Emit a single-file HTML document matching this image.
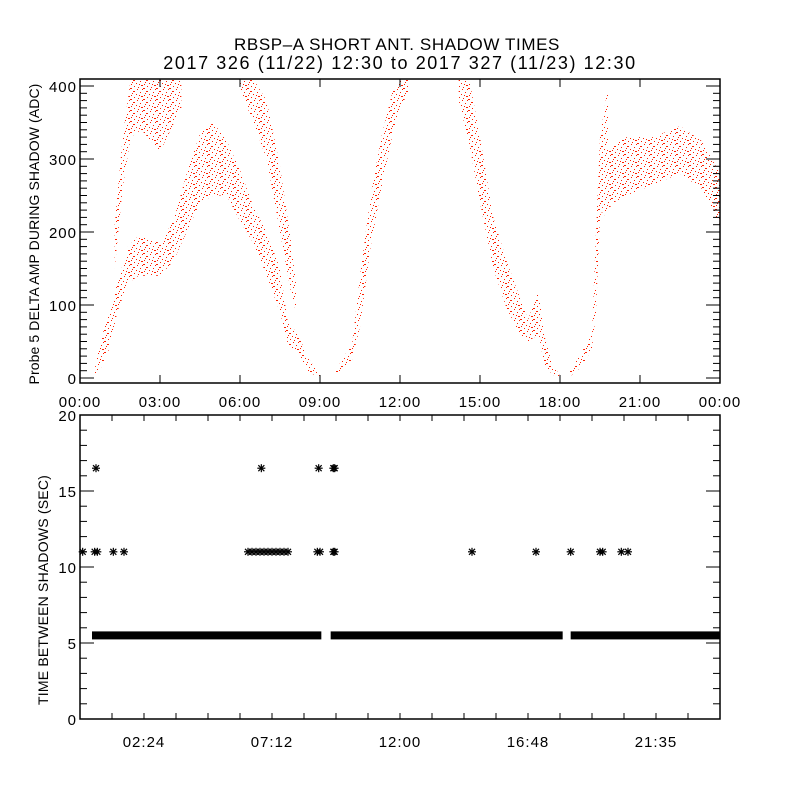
<!DOCTYPE html>
<html><head><meta charset="utf-8"><style>
html,body{margin:0;padding:0;background:#fff;}
svg{display:block;font-family:"Liberation Sans",sans-serif;}
</style></head><body>
<svg id="c" width="800" height="800" viewBox="0 0 800 800">
<defs>
<pattern id="dots" width="13" height="11" patternUnits="userSpaceOnUse">
<rect x="0" y="0" width="2" height="1" fill="#ff2000"/>
<rect x="7" y="1" width="1" height="1" fill="#ff2000"/>
<rect x="3" y="3" width="2" height="1" fill="#ff2000"/>
<rect x="10" y="4" width="1" height="1" fill="#ff2000"/>
<rect x="6" y="6" width="1" height="1" fill="#ff2000"/>
<rect x="1" y="7" width="1" height="1" fill="#ff2000"/>
<rect x="11" y="8" width="2" height="1" fill="#ff2000"/>
<rect x="4" y="9" width="1" height="1" fill="#ff2000"/>
<rect x="8" y="10" width="1" height="1" fill="#ff2000"/>
<rect x="12" y="1" width="1" height="1" fill="#ff2000"/>
<rect x="9" y="7" width="1" height="1" fill="#ff2000"/>
<rect x="2" y="5" width="1" height="1" fill="#ff2000"/>
</pattern>
</defs>
<text x="397" y="50" text-anchor="middle" font-size="17" letter-spacing="0.6">RBSP–A SHORT ANT. SHADOW TIMES</text>
<text x="400" y="69" text-anchor="middle" font-size="18" letter-spacing="1.6">2017 326 (11/22) 12:30 to 2017 327 (11/23) 12:30</text>
<g id="topPanel"></g>
<g id="botPanel"></g>
</svg>
<script>
// ---- data ----
const bandMainH=[0.5,0.8,1.1,1.4,1.8,2.2,3,3.5,4,4.5,5,5.5,6,6.5,7,7.5,7.8,8.2,8.5,9];
const bandMainLo=[0,15,40,90,130,140,140,160,200,240,250,250,215,185,140,90,45,35,10,0];
const bandMainHi=[4,55,90,130,180,195,185,215,280,335,350,325,285,235,200,150,75,60,30,5];
const bandUpH=[1.3,1.6,1.9,2.3,3,3.8];
const bandUpLo=[150,260,330,340,310,370];
const bandUpHi=[210,330,410,410,410,410];
const bandDescAH=[6.0,6.5,7,7.5,7.9,8.1];
const bandDescALo=[395,350,300,200,120,90];
const bandDescAHi=[410,410,380,290,190,130];
const bandRiseAH=[9.5,9.9,10.2,10.5,10.9,11.3,11.7,12,12.3];
const bandRiseALo=[0,15,25,70,180,260,330,370,390];
const bandRiseAHi=[4,30,45,140,250,330,390,410,410];
const bandDescBH=[14.2,14.6,15,15.5,16,16.5,16.8,17.2,17.4,17.7,18];
const bandDescBLo=[380,320,240,150,95,60,50,60,20,5,0];
const bandDescBHi=[410,410,330,220,160,110,80,120,60,20,3];
const bandRiseBH=[18.3,18.8,19.2,19.35,19.5,19.8];
const bandRiseBLo=[0,15,40,90,220,260];
const bandRiseBHi=[5,35,60,200,330,400];
const bandLateH=[19.6,20,20.5,21.5,22.5,23.3,23.7,24];
const bandLateLo=[220,240,250,265,280,260,230,210];
const bandLateHi=[300,320,330,330,345,325,300,280];
const barStart=[0.45,9.4,18.4];
const barEnd=[9.05,18.1,24];
const barValue=[5.5,5.5,5.5];
const star11Hours=[0.1,0.55,0.65,1.25,1.65,6.3,6.45,6.6,6.75,6.9,7.05,7.2,7.35,7.5,7.65,7.8,8.9,9.0,9.5,9.55,14.7,17.1,18.4,19.5,19.6,20.3,20.55];
const star16Hours=[0.6,6.8,8.95,9.5,9.55];
const topXTicks=["00:00","03:00","06:00","09:00","12:00","15:00","18:00","21:00","00:00"];
const topYTicks=[0,100,200,300,400];
const botXTicks=["02:24","07:12","12:00","16:48","21:35"];
const botYTicks=[0,5,10,15,20];

const NS="http://www.w3.org/2000/svg";
function mk(p,t,a){const e=document.createElementNS(NS,t);for(const k in a)e.setAttribute(k,a[k]);p.appendChild(e);return e;}
const X0=80,X1=720;
const xs=h=>X0+h*(X1-X0)/24;
const T0=79,T1=383;
const ty=v=>Math.max(T0,Math.min(T1,378-v*0.73));
const B0=415,B1=719;
const by=v=>B1-v*(B1-B0)/20;

const topG=document.getElementById('topPanel');
const bands=[[bandMainH,bandMainLo,bandMainHi,'band-main'],[bandUpH,bandUpLo,bandUpHi,'band-upper'],[bandDescAH,bandDescALo,bandDescAHi,'band-descent-a'],[bandRiseAH,bandRiseALo,bandRiseAHi,'band-rise-a'],[bandDescBH,bandDescBLo,bandDescBHi,'band-descent-b'],[bandRiseBH,bandRiseBLo,bandRiseBHi,'band-rise-b'],[bandLateH,bandLateLo,bandLateHi,'band-late']];
bands.forEach(b=>{
  const [H,L,U,n]=b;let pts=[];
  for(let i=0;i<H.length;i++)pts.push(xs(H[i])+','+ty(U[i]));
  for(let i=H.length-1;i>=0;i--)pts.push(xs(H[i])+','+ty(L[i]));
  const p=mk(topG,'polygon',{points:pts.join(' '),fill:'url(#dots)'});
  
  
});
mk(topG,'rect',{x:X0,y:T0,width:X1-X0,height:T1-T0,fill:'none',stroke:'#000','stroke-width':1.5});
topXTicks.forEach((l,i)=>{
  const x=X0+i*80;
  mk(topG,'line',{x1:x,x2:x,y1:T1,y2:T1-8,stroke:'#000'});
  mk(topG,'line',{x1:x,x2:x,y1:T0,y2:T0+8,stroke:'#000'});
  const t=mk(topG,'text',{x:x,y:T1+24,'text-anchor':'middle','font-size':15,'letter-spacing':1});t.textContent=l;
  
  
});
for(let v=0;v<=410;v+=10){
  const y=ty(v);const len=v%100===0?14:7;
  mk(topG,'line',{x1:X0,x2:X0+len,y1:y,y2:y,stroke:'#000'});
  mk(topG,'line',{x1:X1,x2:X1-len,y1:y,y2:y,stroke:'#000'});
}
topYTicks.forEach(v=>{
  const t=mk(topG,'text',{x:X0-3,y:ty(v)+6,'text-anchor':'end','font-size':15,'letter-spacing':1});t.textContent=v;
  
  
});
const yt=mk(topG,'text',{x:0,y:0,'text-anchor':'middle','font-size':14,'letter-spacing':0.1,transform:'translate(39,234) rotate(-90)'});
yt.textContent='Probe 5 DELTA AMP DURING SHADOW (ADC)';



const botG=document.getElementById('botPanel');
for(let i=0;i<barStart.length;i++){
  const r=mk(botG,'rect',{x:xs(barStart[i]),y:by(barValue[i])-4,width:xs(barEnd[i])-xs(barStart[i]),height:8,fill:'#000'});
  
  
}
function star(h,v){
  const g=mk(botG,'g',{stroke:'#000','stroke-width':1.2});
  
  
  const x=xs(h),y=by(v),r=4;
  mk(g,'line',{x1:x-r,x2:x+r,y1:y,y2:y});
  mk(g,'line',{x1:x,x2:x,y1:y-r,y2:y+r});
  mk(g,'line',{x1:x-3,x2:x+3,y1:y-3,y2:y+3});
  mk(g,'line',{x1:x-3,x2:x+3,y1:y+3,y2:y-3});
}
star11Hours.forEach(h=>star(h,11));
star16Hours.forEach(h=>star(h,16.5));
mk(botG,'rect',{x:X0,y:B0,width:X1-X0,height:B1-B0,fill:'none',stroke:'#000','stroke-width':1.5});
for(let k=1;k<20;k++){const x=X0+k*32;
  mk(botG,'line',{x1:x,x2:x,y1:B1,y2:B1-6,stroke:'#000'});
  mk(botG,'line',{x1:x,x2:x,y1:B0,y2:B0+6,stroke:'#000'});}
botXTicks.forEach((l,i)=>{
  const t=mk(botG,'text',{x:X0+64+i*128,y:B1+28,'text-anchor':'middle','font-size':15,'letter-spacing':1});t.textContent=l;
  
  
});
for(let v=0;v<=20;v++){const y=by(v);const len=v%5===0?14:7;
  mk(botG,'line',{x1:X0,x2:X0+len,y1:y,y2:y,stroke:'#000'});
  mk(botG,'line',{x1:X1,x2:X1-len,y1:y,y2:y,stroke:'#000'});}
botYTicks.forEach(v=>{
  const t=mk(botG,'text',{x:X0-3,y:by(v)+6,'text-anchor':'end','font-size':15,'letter-spacing':1});t.textContent=v;
  
  
});
const yb=mk(botG,'text',{x:0,y:0,'text-anchor':'middle','font-size':14,'letter-spacing':0.2,transform:'translate(48,590) rotate(-90)'});
yb.textContent='TIME BETWEEN SHADOWS (SEC)';


</script>
</body></html>
